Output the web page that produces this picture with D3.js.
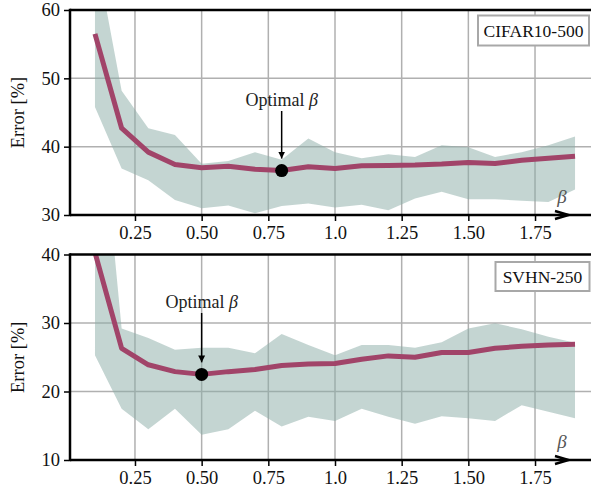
<!DOCTYPE html>
<html>
<head>
<meta charset="utf-8">
<script src="https://cdn.jsdelivr.net/npm/d3@7"></script>
<style>
  body { margin: 0; background: #fff; }
  text { font-family: "Liberation Serif", "DejaVu Serif", serif; }
</style>
</head>
<body>
<div id="chart"></div>
<script>
// beta values on the x axis
var betas = [0.1, 0.2, 0.3, 0.4, 0.5, 0.6, 0.7, 0.8, 0.9, 1.0,
             1.1, 1.2, 1.3, 1.4, 1.5, 1.6, 1.7, 1.8, 1.9];

var cifarMean  = [56.5, 42.7, 39.2, 37.4, 36.9, 37.15, 36.7, 36.5, 37.05, 36.8,
                  37.2, 37.25, 37.3, 37.45, 37.7, 37.55, 38.0, 38.3, 38.6];
var cifarUpper = [69, 48.2, 42.7, 41.7, 37.5, 37.9, 39.2, 38.1, 41.2, 39.2,
                  38.3, 38.9, 38.5, 40.2, 39.9, 38.5, 39.2, 40.2, 41.5];
var cifarLower = [45.8, 36.8, 35.1, 32.2, 31.0, 31.4, 30.25, 31.3, 31.7, 31.1,
                  31.5, 30.7, 32.4, 33.4, 32.3, 32.3, 32.1, 31.9, 33.75];

var svhnMean  = [40.3, 26.3, 23.9, 22.9, 22.5, 22.9, 23.2, 23.8, 24.0, 24.1,
                 24.7, 25.2, 25.0, 25.7, 25.7, 26.3, 26.6, 26.8, 26.9];
var svhnUpper = [70, 29.2, 27.8, 26.1, 26.4, 26.4, 25.6, 28.4, 26.8, 25.3,
                 26.8, 26.8, 26.4, 27.2, 29.2, 29.95, 29.1, 28.0, 27.1];
var svhnLower = [25.3, 17.5, 14.5, 17.5, 13.7, 14.5, 17.2, 14.9, 16.3, 15.7,
                 17.5, 16.3, 15.3, 16.4, 16.1, 15.7, 18.0, 17.05, 16.1];

var xTicks = [0.25, 0.5, 0.75, 1.0, 1.25, 1.5, 1.75];
var xTickLabels = ["0.25", "0.50", "0.75", "1.0", "1.25", "1.50", "1.75"];

var w = 591, h = 487;
var left = 70, right = 600;

var svg = d3.select("#chart").append("svg")
  .attr("width", w)
  .attr("height", h);

var defs = svg.append("defs");
defs.append("marker")
  .attr("id", "arrowhead")
  .attr("viewBox", "0 0 10 10")
  .attr("refX", 10).attr("refY", 5)
  .attr("markerWidth", 7).attr("markerHeight", 10)
  .attr("markerUnits", "userSpaceOnUse")
  .attr("orient", "auto")
  .append("path")
  .attr("d", "M0,0 L10,5 L0,10 Z")
  .attr("fill", "#000");

var xScale = d3.scaleLinear()
  .domain([0, 1])
  .range([68.3, 335]);

var drawPanel = function(id, top, bottom, yDomain, yTicks, mean, upper, lower,
                         optIdx, name, legendBox, optLabelY) {
  var g = svg.append("g");

  var yScale = d3.scaleLinear()
    .domain(yDomain)
    .range([bottom, top]);

  defs.append("clipPath")
    .attr("id", "clip-" + id)
    .append("rect")
    .attr("x", left).attr("y", top)
    .attr("width", right - left).attr("height", bottom - top);

  // grid
  g.selectAll(".vgrid")
    .data(xTicks)
    .enter().append("line")
    .attr("x1", function(d) { return xScale(d); })
    .attr("x2", function(d) { return xScale(d); })
    .attr("y1", top).attr("y2", bottom)
    .attr("stroke", "#b0b0b0").attr("stroke-width", 1.5);

  g.selectAll(".hgrid")
    .data(yTicks)
    .enter().append("line")
    .attr("x1", left).attr("x2", right)
    .attr("y1", function(d) { return yScale(d); })
    .attr("y2", function(d) { return yScale(d); })
    .attr("stroke", "#b0b0b0").attr("stroke-width", 1.5);

  var plot = g.append("g").attr("clip-path", "url(#clip-" + id + ")");

  var area = d3.area()
    .x(function(d, i) { return xScale(betas[i]); })
    .y0(function(d, i) { return yScale(lower[i]); })
    .y1(function(d, i) { return yScale(upper[i]); });

  plot.append("path")
    .datum(mean)
    .attr("d", area)
    .attr("fill", "#8aaca6")
    .attr("fill-opacity", 0.5);

  var line = d3.line()
    .x(function(d, i) { return xScale(betas[i]); })
    .y(function(d) { return yScale(d); });

  plot.append("path")
    .datum(mean)
    .attr("d", line)
    .attr("fill", "none")
    .attr("stroke", "#a14469")
    .attr("stroke-width", 5)
    .attr("stroke-linejoin", "round");

  // optimal point
  var ox = xScale(betas[optIdx]), oy = yScale(mean[optIdx]);
  g.append("circle")
    .attr("cx", ox).attr("cy", oy).attr("r", 6.5)
    .attr("fill", "#000");

  g.append("text")
    .attr("x", ox).attr("y", optLabelY)
    .attr("text-anchor", "middle")
    .attr("font-size", "18px")
    .attr("fill", "#222")
    .text("Optimal ")
    .append("tspan")
    .attr("font-style", "italic")
    .text("β");

  g.append("line")
    .attr("x1", ox).attr("x2", ox)
    .attr("y1", optLabelY + 5).attr("y2", oy - 12)
    .attr("stroke", "#000").attr("stroke-width", 1.5)
    .attr("marker-end", "url(#arrowhead)");

  // spines
  g.append("line")
    .attr("x1", left).attr("x2", right)
    .attr("y1", top).attr("y2", top)
    .attr("stroke", "#000").attr("stroke-width", 2.5);
  g.append("line")
    .attr("x1", left).attr("x2", left)
    .attr("y1", top - 1.25).attr("y2", bottom + 1.25)
    .attr("stroke", "#000").attr("stroke-width", 2.5);
  g.append("line")
    .attr("x1", left).attr("x2", right)
    .attr("y1", bottom).attr("y2", bottom)
    .attr("stroke", "#000").attr("stroke-width", 2.5);

  // open arrow on the x axis
  g.append("path")
    .attr("d", "M555," + (bottom - 4) + " L568.5," + bottom + " L555," + (bottom + 4))
    .attr("fill", "none")
    .attr("stroke", "#000")
    .attr("stroke-width", 2.5);

  g.append("text")
    .attr("x", 562).attr("y", bottom - 12)
    .attr("text-anchor", "middle")
    .attr("font-size", "19px")
    .attr("font-style", "italic")
    .attr("fill", "#555")
    .text("β");

  // x ticks
  var xAxis = d3.axisBottom(xScale)
    .tickValues(xTicks)
    .tickSize(5)
    .tickPadding(5)
    .tickFormat(function(d, i) { return xTickLabels[i]; });

  var xa = g.append("g")
    .attr("transform", "translate(0," + (bottom + 1) + ")")
    .call(xAxis);
  xa.select(".domain").remove();
  xa.selectAll(".tick line").attr("stroke", "#000").attr("stroke-width", 1.5);
  xa.selectAll(".tick text")
    .attr("font-family", "Liberation Serif, serif")
    .attr("font-size", "18.5px")
    .attr("fill", "#111");

  // y ticks
  var yAxis = d3.axisLeft(yScale)
    .tickValues(yDomain.concat(yTicks))
    .tickSize(5)
    .tickPadding(4)
    .tickFormat(d3.format("d"));

  var ya = g.append("g")
    .attr("transform", "translate(" + (left - 1) + ",0)")
    .call(yAxis);
  ya.select(".domain").remove();
  ya.selectAll(".tick line").attr("stroke", "#000").attr("stroke-width", 1.5);
  ya.selectAll(".tick text")
    .attr("font-family", "Liberation Serif, serif")
    .attr("font-size", "18.5px")
    .attr("fill", "#111");

  g.append("text")
    .attr("transform", "translate(24," + ((top + bottom) / 2) + ") rotate(-90)")
    .attr("text-anchor", "middle")
    .attr("font-size", "18.5px")
    .attr("fill", "#111")
    .text("Error [%]");

  // legend box
  g.append("rect")
    .attr("x", legendBox[0]).attr("y", legendBox[1])
    .attr("width", legendBox[2]).attr("height", legendBox[3])
    .attr("fill", "#fff")
    .attr("stroke", "#a8a8a8")
    .attr("stroke-width", 2);
  g.append("text")
    .attr("x", legendBox[0] + legendBox[2] / 2).attr("y", legendBox[1] + legendBox[3] / 2 + 6)
    .attr("text-anchor", "middle")
    .attr("font-size", "17.5px")
    .attr("fill", "#111")
    .text(name);
};

drawPanel("top", 10, 215, [30, 60], [40, 50], cifarMean, cifarUpper, cifarLower,
          7, "CIFAR10-500", [478, 15.5, 111, 30], 106);
drawPanel("bottom", 254.5, 460, [10, 40], [20, 30], svhnMean, svhnUpper, svhnLower,
          4, "SVHN-250", [495.5, 262, 94, 29], 308);
</script>
</body>
</html>
